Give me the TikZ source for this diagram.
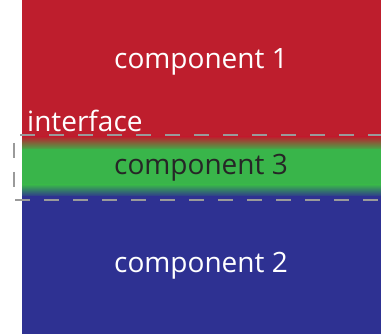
\documentclass[tikz,border=0pt]{standalone}
\usepackage{fontspec}
\setmainfont{Open Sans}
\usetikzlibrary{calc}
\usetikzlibrary{positioning}
\definecolor{compred}{HTML}{BE1E2D}
\definecolor{compgreen}{HTML}{39B54A}
\definecolor{compblue}{HTML}{2E3192}
\definecolor{dashgray}{HTML}{9A9A9A}
\tikzset{
	label text/.style={font=\fontsize{28}{32}\selectfont, inner sep=0pt},
}

\begin{document}
\begin{tikzpicture}[x=1pt, y=-1pt]
		\useasboundingbox (0, 0) rectangle (381, 334);
		
		% layers
		\fill[compred] (22, 0) rectangle (381, 137);
		\shade[top color=compred, bottom color=compgreen] (22, 136.5) rectangle (381, 150);
		\fill[compgreen] (22, 149.5) rectangle (381, 185);
		\shade[top color=compgreen, bottom color=compblue] (22, 184.5) rectangle (381, 197);
		\fill[compblue] (22, 196.5) rectangle (381, 334);
		
		\node[label text, white] (comp1) at (201, 62) {component 1};
		\node[label text, black!85] (comp3) at (201, 168) {component 3};
		\node[label text, white] (comp2) at (201, 266) {component 2};
		\node[label text, white, anchor=west] (iface) at (27, 121) {interface};
		
		% interface box, open on the right
		\coordinate (t1) at (381, 135);
		\coordinate (t2) at (14, 135);
		\coordinate (b1) at (14, 200);
		\coordinate (b2) at (381, 200);
		\draw[dashgray, line width=2.5pt, dash pattern=on 15pt off 14pt, dash phase=2pt]
			(t1) -- (t2) -- (b1) -- (b2);
		
	\end{tikzpicture}
\end{document}
